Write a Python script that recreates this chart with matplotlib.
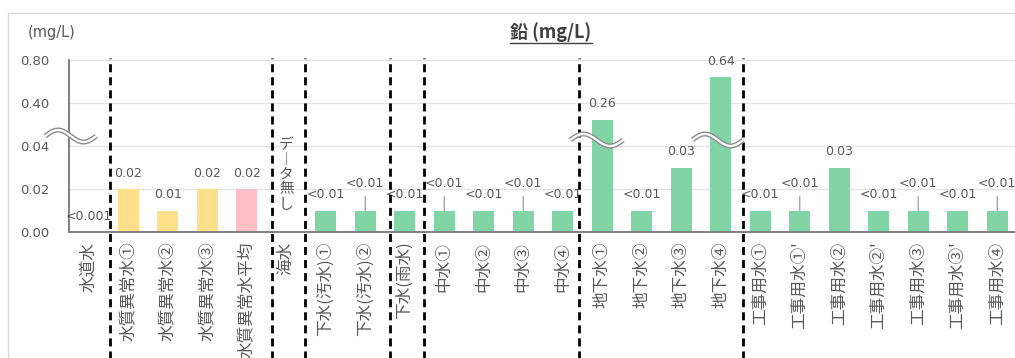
import numpy as np
import matplotlib
matplotlib.use("Agg")
import matplotlib.pyplot as plt
from matplotlib.transforms import blended_transform_factory, IdentityTransform
from matplotlib.patches import Rectangle
from matplotlib.lines import Line2D

# ---------------- data ----------------
categories = ["水道水", "水質異常水①", "水質異常水②", "水質異常水③", "水質異常水平均", "海水",
              "下水(汚水)①", "下水(汚水)②", "下水(雨水)",
              "中水①", "中水②", "中水③", "中水④",
              "地下水①", "地下水②", "地下水③", "地下水④",
              "工事用水①", "工事用水①'", "工事用水②", "工事用水②'",
              "工事用水③", "工事用水③'", "工事用水④"]
values = [0.0, 0.02, 0.01, 0.02, 0.02, np.nan,
          0.01, 0.01, 0.01,
          0.01, 0.01, 0.01, 0.01,
          0.26, 0.01, 0.03, 0.64,
          0.01, 0.01, 0.03, 0.01, 0.01, 0.01, 0.01]
value_labels = ["<0.001", "0.02", "0.01", "0.02", "0.02", "",
                "<0.01", "<0.01", "<0.01",
                "<0.01", "<0.01", "<0.01", "<0.01",
                "0.26", "<0.01", "0.03", "0.64",
                "<0.01", "<0.01", "0.03", "<0.01", "<0.01", "<0.01", "<0.01"]
groups = ["tap", "abn", "abn", "abn", "avg", "sea",
          "g", "g", "g", "g", "g", "g", "g",
          "g", "g", "g", "g",
          "g", "g", "g", "g", "g", "g", "g"]
no_data_index = 5
no_data_chars = ["デ", "︱", "タ", "無", "し"]
y_ticks = [0.00, 0.02, 0.04, 0.40, 0.80]
y_tick_labels = ["0.00", "0.02", "0.04", "0.40", "0.80"]
title = "鉛 (mg/L)"
unit = "(mg/L)"

# ---------------- styles / positions ----------------
group_colors = {"tap": "#7f7f7f", "abn": "#FFE08A", "avg": "#FFBFC6",
                "sea": "#ffffff", "g": "#80D4A6"}
raised = [7, 9, 11, 18, 21, 23]
separators = [0.54, 4.65, 5.48, 7.63, 8.49, 12.42, 16.57]
breaks = [(-1.10, 0.19, 0.558), (12.19, 13.53, 0.535), (15.28, 16.57, 0.535)]

gray_txt = "#595959"
num_font = ["DejaVu Sans"]
plt.rcParams['font.family'] = ['Noto Sans CJK JP', 'DejaVu Sans']

W, H = 1015, 358
fig = plt.figure(figsize=(W / 100, H / 100), dpi=100)
ax = fig.add_axes([69 / W, (H - 232) / H, (1017 - 69) / W, 172 / H])

# broken-axis scale
bk_v = [0.0, 0.04, 0.40, 0.80]
bk_p = [0.0, 2.0, 3.0, 4.0]
ax.set_yscale('function', functions=(lambda v: np.interp(v, bk_v, bk_p),
                                     lambda p: np.interp(p, bk_p, bk_v)))

x = np.arange(len(categories))
cols = [group_colors[g] for g in groups]
ax.bar(x, values, width=0.53, color=cols, zorder=2)

ax.set_xlim(-0.5, len(categories) - 0.5)
ax.set_ylim(0, 0.80)
ax.set_yticks(y_ticks)
ax.set_yticklabels(y_tick_labels, family=num_font, fontsize=9.5, color=gray_txt)
ax.set_xticks(x)
ax.set_xticklabels(categories, rotation=90, fontsize=12, color=gray_txt,
                   ha='center', va='top')
ax.tick_params(axis='both', length=0)
ax.tick_params(axis='y', pad=14)
ax.tick_params(axis='x', pad=7)
ax.yaxis.grid(True, color="#e4e4e4", lw=1, zorder=0)
ax.set_axisbelow(True)
for s in ["top", "right"]:
    ax.spines[s].set_visible(False)
for s in ["left", "bottom"]:
    ax.spines[s].set_color("#808080")
    ax.spines[s].set_linewidth(1.4)

# value labels
for i, (v, lab) in enumerate(zip(values, value_labels)):
    if not lab:
        continue
    top = 0.0 if np.isnan(v) else v
    off = 19.5 if i in raised else 11.5
    ax.annotate(lab, xy=(i, top), xytext=(0, off), textcoords='offset points',
                ha='center', va='center', fontsize=9, color=gray_txt,
                family=num_font, zorder=4)
    if i in raised:
        ax.annotate("", xy=(i, top), xytext=(0, 10), textcoords='offset points',
                    arrowprops=dict(arrowstyle='-', color="#a6a6a6", lw=1,
                                    shrinkA=0, shrinkB=0))

bt = blended_transform_factory(ax.transData, ax.transAxes)

# no-data vertical text (stacked upright characters)
ax.text(no_data_index, 0.107, "\n".join(no_data_chars),
        ha='center', va='top', fontsize=10.5, color=gray_txt, linespacing=1.08,
        zorder=4)

# dashed separators
for sx in separators:
    ax.plot([sx, sx], [-0.75, 1.01], transform=bt, color="black", lw=2,
            dashes=(2.9, 1.8), clip_on=False, zorder=5)

# wavy break marks
t = np.linspace(0, 1, 80)
for x0, x1, yc in breaks:
    xs = x0 + (x1 - x0) * t
    ys = yc + 0.035 * np.sin(2 * np.pi * t)
    ax.plot(xs, ys, transform=bt, color="#8c8c8c", lw=3.6, clip_on=False,
            zorder=6, solid_capstyle='butt')
    ax.plot(xs, ys, transform=bt, color="white", lw=1.6, clip_on=False,
            zorder=7, solid_capstyle='butt')

# unit & title
fig.text(28 / W, 1 - 33 / H, unit, fontsize=10.5, color=gray_txt, family=num_font,
         ha='left', va='center')
tt = fig.text(551 / W, 1 - 32 / H, title, fontsize=13, color="#404040",
              weight='bold', ha='center', va='center')

# outer frame
fig.add_artist(Rectangle((8 / W, -0.2), 1.2, (H - 13) / H + 0.2,
                         transform=fig.transFigure, fill=False,
                         edgecolor="#d9d9d9", lw=1))

fig.canvas.draw()
bb = tt.get_window_extent()
fig.add_artist(Line2D([bb.x0, bb.x1], [bb.y0 - 1.5, bb.y0 - 1.5],
                      transform=IdentityTransform(), color="#404040", lw=1))

fig.savefig("out.png", dpi=100, facecolor="white")
